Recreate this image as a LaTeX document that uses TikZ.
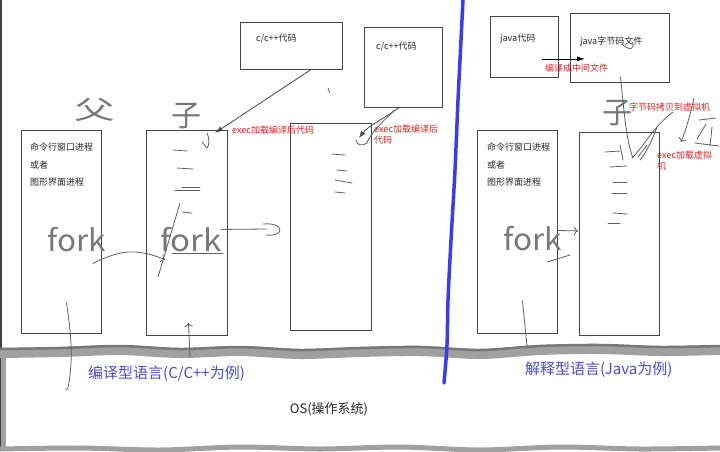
\documentclass[tikz,border=0pt]{standalone}
\usepackage{fontspec}
\setmainfont{Noto Sans CJK SC}
\usetikzlibrary{arrows.meta,calc,positioning}

\definecolor{boxline}{RGB}{70,70,70}
\definecolor{inkred}{RGB}{225,30,30}
\definecolor{inkblue}{RGB}{75,75,200}
\definecolor{penblue}{RGB}{60,60,235}
\definecolor{pencil}{RGB}{95,95,95}
\definecolor{softpencil}{RGB}{120,120,120}
\definecolor{band}{RGB}{160,160,160}

\begin{document}
\begin{tikzpicture}[
  x=1pt, y=-1pt,
  proc/.style={draw=boxline, line width=0.9pt, minimum width=80pt, minimum height=203pt, anchor=north west, inner sep=0pt},
  src/.style={draw=boxline, line width=0.9pt, anchor=north west, inner sep=0pt},
  boxtext/.style={font=\fontsize{9}{17.5}\selectfont, text=black!85, anchor=north west, inner sep=0pt, align=left},
  note/.style={font=\fontsize{9}{11}\selectfont, text=inkred, anchor=west, inner sep=0pt, align=left},
  hand/.style={font=\fontsize{30}{30}\selectfont, text=softpencil, inner sep=0pt},
  scrib/.style={draw=pencil, line width=0.8pt, line cap=round},
  lang/.style={font=\fontsize{15}{16}\selectfont, text=inkblue, anchor=west, inner sep=0pt},
  font=\small
]
\useasboundingbox (0,0) rectangle (720,451);

% OS band and frame
\draw[black!75, line width=2.5pt] (1.2,0) -- (1.2,451);
\draw[band, line width=5pt] (3,352) -- (3,451);
\draw[band, line width=10pt] plot[smooth] coordinates {(0,353) (60,352) (120,350) (180,353) (240,351) (300,354) (360,352) (420,351) (480,354) (540,350) (600,349) (660,351) (720,350)};
\draw[band!75!black, line width=2.5pt] plot[smooth] coordinates {(0,349) (60,348) (120,346) (180,349) (240,347) (300,350) (360,348) (420,347) (480,350) (540,346) (600,345) (660,347) (720,346)};
\draw[band, line width=5pt] plot[smooth] coordinates {(0,449) (80,448) (160,450) (240,447) (320,449) (400,447) (480,450) (560,447) (640,449) (720,448)};

% compiled language side
\node[proc] (fatherC) at (21,130) {};
\node[proc, minimum width=81pt, minimum height=205pt] (sonC) at (146,130) {};
\node[proc, minimum width=81pt, minimum height=207pt] (execC) at (290,123) {};
\node[src, minimum width=102pt, minimum height=47pt] (codeA) at (240,22) {};
\node[src, minimum width=78pt, minimum height=80pt] (codeB) at (364,27) {};

\node[boxtext, below right=13pt and 9pt of fatherC.north west] (fatherCText) {命令行窗口进程\\或者\\图形界面进程};
\node[boxtext, below right=12pt and 16pt of codeA.north west] (codeAText) {c/c++代码};
\node[boxtext, below right=15pt and 12pt of codeB.north west] (codeBText) {c/c++代码};

\node[note] (execNoteA) at (232,130) {exec加载编译后代码};
\node[note] (execNoteB) at (374,134.5) {exec加载编译后\\代码};

\draw[-{Latex[length=8pt,width=5pt]}, boxline, line width=0.8pt] ($(codeA.south)+(19,0)$) -- ($(sonC.north east)+(-13,3)$);
\draw[-{Latex[length=7pt,width=5pt]}, boxline, line width=0.8pt] ($(codeB.south)+(-5,0)$) .. controls (385,118) and (368,126) .. ($(execC.north east)+(-13,15)$);
\draw[scrib] (395,110) .. controls (378,125) and (368,138) .. (367,143) .. controls (362,146) and (357,146) .. (356,140);
\draw[scrib] (328,88) -- (330,93);

\node[hand] (fatherMark) at (95,110) {\scalebox{1.35}[0.85]{父}};
\node[hand] (sonMark) at (186,116) {子};
\node[hand] (forkA) at (77,240) {\scalebox{1.05}[1]{fork}};
\node[hand] (forkB) at (191,240) {\scalebox{1.1}[1]{fork}};

% code lines in the child processes
\draw[scrib] (207,133) .. controls (210,140) and (209,146) .. (207,148) -- (202,142);
\draw[scrib] (173,150) -- (187,151);
\draw[scrib] (177,168) -- (193,169);
\draw[scrib] (182,187) -- (200,187);
\draw[scrib] (175,190) -- (200,190);
\draw[scrib] (182,212) -- (192,213);
\draw[scrib] (180,203) -- (158,277);
\draw[scrib] (172,253) -- (223,253);
\draw[scrib] (332,154) -- (345,155);
\draw[scrib] (337,170) -- (347,171);
\draw[scrib] (335,180) -- (352,183);
\draw[scrib] (335,192) -- (345,193);

\draw[scrib, -{To[length=4pt]}] ($(fatherC.east)+(-9,31.5)$) .. controls (120,250) and (135,248) .. ($(sonC.west)+(19,26.5)$);
\draw[scrib] ($(sonC.east)+(-7,-3.5)$) -- (267,229) coordinate (ringStart);
\draw[scrib] (ringStart) ++(-4,-5) .. controls (285,222) and (285,237) .. (266,235);
\draw[scrib] ($(fatherC.south)+(5,-31)$) .. controls (72,340) and (73,360) .. (68,388) -- (66,390);
\draw[scrib, -{To[length=4pt]}] (190,357) -- ($(sonC.south)+(1.5,-13)$);

% interpreted language side
\draw[penblue, line width=3.5pt, line cap=round] plot[smooth] coordinates {(463,0) (461,40) (458,100) (455,170) (451,240) (448,300) (447,345) (444,383)};

\node[src, minimum width=68pt, minimum height=61pt] (javaSrc) at (490,16) {};
\node[src, minimum width=99pt, minimum height=69pt] (javaByte) at (570,13) {};
\node[proc] (fatherJ) at (477,130) {};
\node[proc, minimum height=203pt] (sonJ) at (579,132) {};

\node[boxtext, below right=18pt and 10pt of javaSrc.north west] (javaSrcText) {java代码};
\node[boxtext, below right=24pt and 10pt of javaByte.north west] (javaByteText) {java字节码文件};
\node[boxtext, below right=13pt and 10pt of fatherJ.north west] (fatherJText) {命令行窗口进程\\或者\\图形界面进程};

\draw[-{Latex[length=8pt,width=5pt]}, black, line width=0.8pt] ($(javaSrc.south east)+(-17,-19)$) -- ($(javaByte.south west)+(15,-24)$);
\node[note] (compileNote) at (545,68) {编译成中间文件};
\node[note] (copyNote) at (629,107) {字节码拷贝到虚拟机};
\node[note] (execNoteJ) at (657,161) {exec加载虚拟\\机};

\node[hand] (sonMarkJ) at (617,113) {子};
\node[hand] (forkJ) at (533,239) {\scalebox{1.05}[1]{fork}};

\draw[scrib] (622,44) .. controls (630,52) and (636,48) .. (632,42);
\draw[scrib] ($(javaByte.south)+(0.5,-6)$) .. controls (624,110) and (626,140) .. (633,158);
\draw[scrib] (632,158) .. controls (645,145) and (652,128) .. (673,112);
\draw[scrib] (640,160) .. controls (648,150) and (652,140) .. (657,127);
\draw[scrib] (605,152) -- (620,151);
\draw[scrib] (620,145) -- (623,160);
\draw[scrib] (610,167) -- (627,166);
\draw[scrib] (638,157) -- (647,145);
\draw[scrib] (613,182) -- (627,182);
\draw[scrib] (612,193) -- (627,193);
\draw[scrib] (613,213) -- (627,214);
\draw[scrib] (608,223) -- (620,223);
\draw[scrib, -{To[length=4pt]}] (694,98) .. controls (690,115) and (686,130) .. (681,142);
\draw[scrib] (699,120) -- (716,118);
\draw[scrib] (706,124) -- (697,139);
\draw[scrib] (712,127) -- (710,146);
\draw[scrib] (695,143) -- (719,146);

\draw[scrib, -{To[length=4pt]}] ($(fatherJ.east)+(0,-1.5)$) -- ($(sonJ.west)+(-1,-3)$);
\draw[scrib] (547,262) -- (570,255);
\draw[scrib] ($(fatherJ.south)+(5,-33)$) -- (527,346);

% bottom labels
\node[lang] (langC) at (88,374) {编译型语言(C/C++为例)};
\node[lang] (langJ) at (525,370) {解释型语言(Java为例)};
\node[font=\fontsize{13}{14}\selectfont, text=black!85] (osLabel) at (329,409) {OS(操作系统)};
\end{tikzpicture}
\end{document}
